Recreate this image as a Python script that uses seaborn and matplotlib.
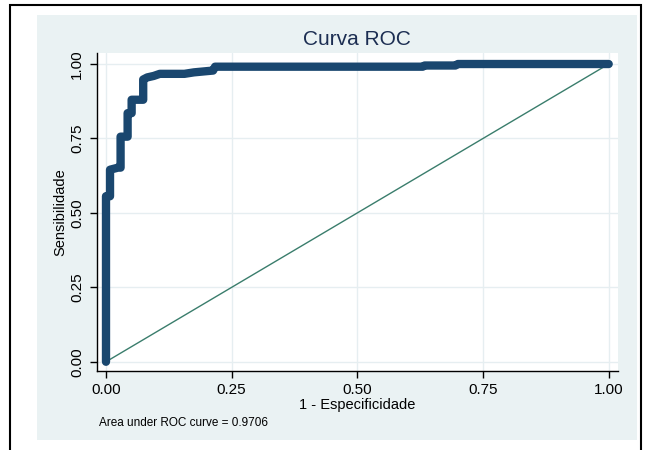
import matplotlib
matplotlib.use("Agg")
import matplotlib.pyplot as plt
import seaborn as sns
import pandas as pd
from matplotlib.patches import Rectangle

# ROC curve vertices (1 - specificity, sensitivity)
fpr = [0.000, 0.000, 0.008, 0.008, 0.024, 0.029, 0.029, 0.043, 0.043, 0.051,
       0.051, 0.074, 0.074, 0.082, 0.095, 0.107, 0.156, 0.175, 0.200, 0.213,
       0.217, 0.630, 0.634, 0.695, 0.700, 1.000]
tpr = [0.000, 0.556, 0.556, 0.645, 0.652, 0.652, 0.756, 0.756, 0.835, 0.835,
       0.880, 0.880, 0.948, 0.955, 0.960, 0.967, 0.967, 0.972, 0.976, 0.978,
       0.991, 0.991, 0.995, 0.995, 1.000, 1.000]
ref_x = [0.0, 1.0]
ref_y = [0.0, 1.0]
ticks = [0.0, 0.25, 0.5, 0.75, 1.0]
tick_labels = ["0.00", "0.25", "0.50", "0.75", "1.00"]
auc_text = "Area under ROC curve = 0.9706"

roc = pd.DataFrame({"fpr": fpr, "tpr": tpr})
ref = pd.DataFrame({"x": ref_x, "y": ref_y})

sns.set_theme(style="white")
plt.rcParams["font.family"] = ["Liberation Sans", "DejaVu Sans"]

W, H = 648, 450
fig = plt.figure(figsize=(6.48, 4.5), dpi=100)
fig.patch.set_facecolor("white")

# outer frame and light graph region
fig.patches.append(Rectangle((37 / W, 1 - 440 / H), 600 / W, 425 / H,
                             transform=fig.transFigure, facecolor="#EAF2F3",
                             edgecolor="none", zorder=0))
fig.patches.append(Rectangle((10 / W, -0.05), 631 / W, (445 / H) + 0.05,
                             transform=fig.transFigure, fill=False,
                             edgecolor="black", linewidth=1.5, zorder=1))

ax = fig.add_axes([96.7 / W, 1 - 371 / H, (618 - 96.7) / W, (371 - 53) / H])
ax.set_zorder(5)
ax.set_facecolor("white")

sns.lineplot(data=ref, x="x", y="y", ax=ax, color="#3a7d6c", linewidth=1.0,
             sort=False, estimator=None, zorder=2)
sns.lineplot(data=roc, x="fpr", y="tpr", ax=ax, color="#1a476f", linewidth=6.0,
             sort=False, estimator=None, zorder=3,
             solid_joinstyle="round", solid_capstyle="round")

ax.set_xlim(-0.0185, 1.0185)
ax.set_ylim(-0.031, 1.037)
ax.set_xticks(ticks)
ax.set_yticks(ticks)
ax.set_xticklabels(tick_labels, fontsize=11)
ax.set_yticklabels(tick_labels, fontsize=11, rotation=90, va="center")
ax.tick_params(axis="both", direction="out", length=5, width=1, color="black",
               pad=4, bottom=True, left=True, labelcolor="black")
ax.grid(True, color="#E6EEF1", linewidth=1.0)
ax.set_axisbelow(True)

for side in ["top", "right"]:
    ax.spines[side].set_visible(False)
for side in ["left", "bottom"]:
    ax.spines[side].set_color("black")
    ax.spines[side].set_linewidth(1.0)

ax.set_xlabel("1 - Especificidade", fontsize=10.5, color="black", labelpad=0)
ax.set_ylabel("Sensibilidade", fontsize=10.5, color="black", labelpad=2)
ax.set_title("Curva ROC", fontsize=15, color="#1c2e52", pad=6)

fig.text(99 / W, 1 - 423 / H, auc_text, fontsize=8.5, color="black",
         ha="left", va="center")

fig.savefig("out.png", dpi=100)
